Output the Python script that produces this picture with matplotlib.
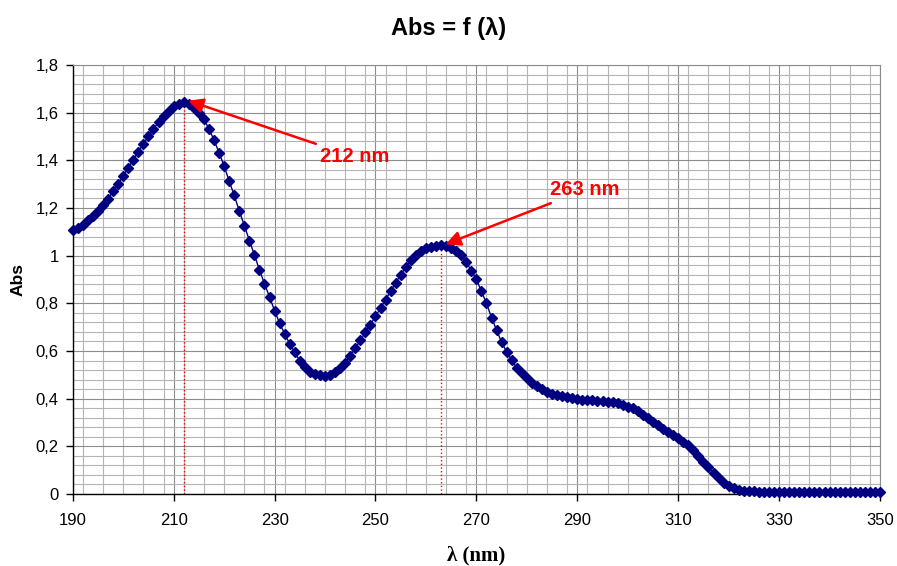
import matplotlib
matplotlib.use("Agg")
import matplotlib.pyplot as plt
from matplotlib.ticker import MultipleLocator, FuncFormatter
import numpy as np

wavelength = list(range(190, 351))
absorbance = [
    1.108, 1.115, 1.129, 1.148, 1.165, 1.186, 1.214, 1.238, 1.270, 1.300,  # 190-199
    1.335, 1.369, 1.402, 1.436, 1.470, 1.500, 1.531, 1.561, 1.587, 1.609,  # 200-209
    1.626, 1.638, 1.645, 1.636, 1.618, 1.598, 1.572, 1.532, 1.485, 1.432,  # 210-219
    1.376, 1.313, 1.253, 1.188, 1.126, 1.063, 1.001, 0.941, 0.882, 0.827,  # 220-229
    0.769, 0.717, 0.672, 0.630, 0.594, 0.559, 0.531, 0.513, 0.504, 0.499,  # 230-239
    0.496, 0.501, 0.512, 0.527, 0.551, 0.578, 0.611, 0.645, 0.678, 0.711,  # 240-249
    0.745, 0.781, 0.815, 0.851, 0.886, 0.920, 0.952, 0.980, 1.003, 1.021,  # 250-259
    1.032, 1.038, 1.041, 1.043, 1.040, 1.031, 1.020, 1.003, 0.972, 0.937,  # 260-269
    0.900, 0.850, 0.800, 0.740, 0.688, 0.636, 0.597, 0.562, 0.528, 0.506,  # 270-279
    0.486, 0.467, 0.452, 0.439, 0.429, 0.420, 0.414, 0.410, 0.405, 0.401,  # 280-289
    0.398, 0.396, 0.395, 0.394, 0.392, 0.390, 0.388, 0.385, 0.380, 0.374,  # 290-299
    0.367, 0.360, 0.348, 0.333, 0.318, 0.303, 0.288, 0.273, 0.259, 0.247,  # 300-309
    0.234, 0.220, 0.205, 0.185, 0.161, 0.134, 0.113, 0.089, 0.066, 0.047,  # 310-319
    0.034, 0.025, 0.018, 0.014, 0.012, 0.011, 0.010, 0.010, 0.010, 0.009,  # 320-329
    0.009, 0.009, 0.009, 0.009, 0.009, 0.009, 0.009, 0.009, 0.009, 0.009,  # 330-339
    0.008, 0.008, 0.008, 0.008, 0.008, 0.008, 0.008, 0.008, 0.008, 0.008,  # 340-349
    0.008,                                                                 # 350
]

peaks = [212, 263]
peak_labels = ["212 nm", "263 nm"]
label_pos = [(245.9, 1.414), (291.5, 1.276)]

x_ticks = list(range(190, 351, 20))
y_ticks = [0, 0.2, 0.4, 0.6, 0.8, 1.0, 1.2, 1.4, 1.6, 1.8]

plt.rcParams['font.family'] = ['Liberation Sans', 'DejaVu Sans']

fig = plt.figure(figsize=(8.97, 5.66), dpi=100)
ax = fig.add_axes([0.0811, 0.1272, 0.9000, 0.7580])

ax.set_xlim(190, 350)
ax.set_ylim(0, 1.8)
ax.set_xticks(x_ticks)
ax.set_yticks(y_ticks)
ax.xaxis.set_minor_locator(MultipleLocator(4))
ax.yaxis.set_minor_locator(MultipleLocator(0.04))
ax.yaxis.set_major_formatter(FuncFormatter(lambda v, p: f"{round(v, 1):g}".replace('.', ',')))

ax.grid(which='major', color='#8c8c8c', lw=0.8)
ax.grid(which='minor', color='#b4b4b4', lw=0.8)
ax.set_axisbelow(True)
ax.tick_params(which='minor', length=0)
ax.tick_params(which='major', length=5, width=1, direction='out', labelsize=12, colors='black')
ax.tick_params(axis='x', pad=9)
ax.tick_params(axis='y', pad=5)
ax.spines['top'].set_color('#8c8c8c')
ax.spines['right'].set_color('#8c8c8c')
ax.spines['left'].set_linewidth(1)
ax.spines['bottom'].set_linewidth(1)

ax.plot(wavelength, absorbance, color='#000080', lw=1, marker='D', markersize=5,
        markerfacecolor='#000080', markeredgecolor='#000080', clip_on=False, zorder=3)

# dotted drop lines and arrows at the two maxima
for p, lab, pos in zip(peaks, peak_labels, label_pos):
    a = absorbance[wavelength.index(p)]
    ax.plot([p, p], [0, a], color='red', ls=':', lw=1, zorder=2)
    ax.annotate(lab, xy=(p + 0.9, a + 0.005), xytext=pos, ha='center', va='center',
                fontsize=14.5, fontweight='bold', color='red',
                arrowprops=dict(arrowstyle='-|>', color='red', lw=1.8, mutation_scale=22,
                                shrinkA=2, shrinkB=0))

fig.text(0.5, 0.950, "Abs = f (λ)", ha='center', va='center', fontsize=17, fontweight='bold')
ax.set_ylabel("Abs", fontsize=12.5, fontweight='bold', labelpad=7)
ax.set_xlabel("λ (nm)", fontsize=15, fontweight='bold', family=['Liberation Serif', 'DejaVu Serif'], labelpad=12)

plt.savefig("out.png", dpi=100)
